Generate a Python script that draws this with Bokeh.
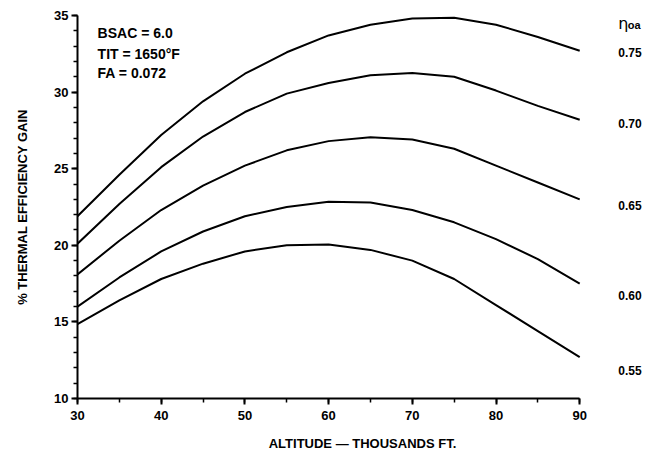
from bokeh.plotting import figure
from bokeh.models import Range1d, Label, SingleIntervalTicker
from bokeh.embed import file_html
from bokeh.resources import INLINE

# ---- data ----
altitude = [30, 35, 40, 45, 50, 55, 60, 65, 70, 75, 80, 85, 90]
eta_075 = [21.9, 24.6, 27.2, 29.4, 31.2, 32.6, 33.7, 34.4, 34.8, 34.85, 34.4, 33.6, 32.7]
eta_070 = [20.1, 22.7, 25.1, 27.1, 28.7, 29.9, 30.6, 31.1, 31.25, 31.0, 30.1, 29.1, 28.2]
eta_065 = [18.1, 20.3, 22.3, 23.9, 25.2, 26.2, 26.8, 27.05, 26.9, 26.3, 25.2, 24.1, 23.0]
eta_060 = [16.0, 17.9, 19.6, 20.9, 21.9, 22.5, 22.85, 22.8, 22.3, 21.5, 20.4, 19.1, 17.5]
eta_055 = [14.85, 16.4, 17.8, 18.8, 19.6, 20.0, 20.05, 19.7, 19.0, 17.8, 16.1, 14.4, 12.7]

series = [eta_075, eta_070, eta_065, eta_060, eta_055]
eta_labels = ["0.75", "0.70", "0.65", "0.60", "0.55"]
eta_label_y = [32.6, 27.95, 22.6, 16.7, 11.8]
notes = ["BSAC = 6.0", "TIT = 1650\u00b0F", "FA = 0.072"]
note_y = [33.85, 32.5, 31.25]

FONT = "Liberation Sans"

p = figure(width=647, height=468, output_backend="svg", toolbar_location=None,
           x_range=Range1d(30, 98.1), y_range=Range1d(10, 35),
           min_border_left=77, min_border_right=0, min_border_top=15, min_border_bottom=70)
p.outline_line_color = None
p.grid.grid_line_color = None
p.background_fill_color = "white"

for ys in series:
    p.line(altitude, ys, line_color="black", line_width=2)

xa = p.xaxis[0]
ya = p.yaxis[0]
xa.ticker = SingleIntervalTicker(interval=10, num_minor_ticks=2)
ya.ticker = SingleIntervalTicker(interval=5, num_minor_ticks=5)
xa.bounds = (30, 90)
ya.bounds = (10, 35)
xa.axis_label = "ALTITUDE \u2014 THOUSANDS FT."
ya.axis_label = "% THERMAL EFFICIENCY GAIN"

for ax in (xa, ya):
    ax.axis_line_color = "black"
    ax.axis_line_width = 2
    ax.major_tick_line_color = "black"
    ax.minor_tick_line_color = "black"
    ax.major_tick_line_width = 2
    ax.minor_tick_line_width = 1.5
    ax.major_tick_out = 6
    ax.major_tick_in = 0
    ax.minor_tick_out = 4
    ax.minor_tick_in = 0
    ax.major_label_text_font = FONT
    ax.major_label_text_font_style = "bold"
    ax.major_label_text_font_size = "13px"
    ax.major_label_text_color = "black"
    ax.axis_label_text_font = FONT
    ax.axis_label_text_font_style = "bold"
    ax.axis_label_text_font_size = "13px"
    ax.axis_label_text_color = "black"

xa.major_label_standoff = 6
xa.axis_label_standoff = 13
ya.major_label_standoff = 3
ya.axis_label_standoff = 21

for txt, yy in zip(notes, note_y):
    p.add_layout(Label(x=32.4, y=yy, text=txt, text_font=FONT, text_font_style="bold",
                       text_font_size="14px", text_baseline="middle", text_color="black"))

for txt, yy in zip(eta_labels, eta_label_y):
    p.add_layout(Label(x=94.6, y=yy, text=txt, text_font=FONT, text_font_style="bold",
                       text_font_size="12px", text_baseline="middle", text_color="black"))

p.add_layout(Label(x=94.6, y=34.5, text="\u03b7", text_font="DejaVu Sans",
                   text_font_size="16px", text_baseline="middle", text_color="black"))
p.add_layout(Label(x=95.75, y=34.4, text="oa", text_font=FONT, text_font_style="bold",
                   text_font_size="11px", text_baseline="middle", text_color="black"))

open("out.html", "w").write(file_html(p, INLINE))
